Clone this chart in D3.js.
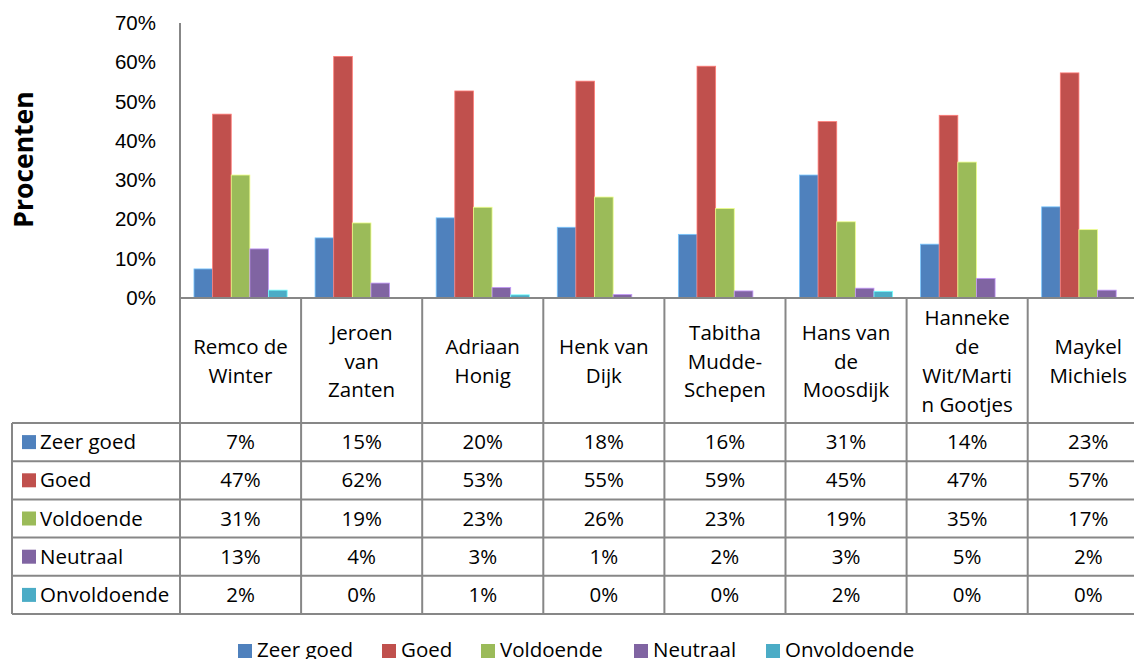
<!DOCTYPE html>
<html>
<head>
<meta charset="utf-8">
<script src="https://cdn.jsdelivr.net/npm/d3@7"></script>
<style>
  body { margin: 0; background: #fff; }
  svg { display: block; font-family: "Open Sans", "Noto Sans", sans-serif; }
</style>
</head>
<body>
<div id="vis"></div>
<script>
// data
var categories = ['Remco de Winter', 'Jeroen van Zanten', 'Adriaan Honig', 'Henk van Dijk',
                  'Tabitha Mudde-Schepen', 'Hans van de Moosdijk', 'Hanneke de Wit/Martin Gootjes', 'Maykel Michiels'];
// how excel wrapped the names in the table header
var categoryLines = [
    ['Remco de', 'Winter'],
    ['Jeroen', 'van', 'Zanten'],
    ['Adriaan', 'Honig'],
    ['Henk van', 'Dijk'],
    ['Tabitha', 'Mudde-', 'Schepen'],
    ['Hans van', 'de', 'Moosdijk'],
    ['Hanneke', 'de', 'Wit/Marti', 'n Gootjes'],
    ['Maykel', 'Michiels']
];
var seriesNames = ['Zeer goed', 'Goed', 'Voldoende', 'Neutraal', 'Onvoldoende'];
var zeerGoed   = [0.074, 0.153, 0.204, 0.180, 0.162, 0.313, 0.137, 0.232];
var goed       = [0.468, 0.615, 0.527, 0.552, 0.590, 0.449, 0.465, 0.573];
var voldoende  = [0.313, 0.191, 0.231, 0.257, 0.228, 0.194, 0.346, 0.174];
var neutraal   = [0.125, 0.038, 0.027, 0.009, 0.018, 0.025, 0.050, 0.020];
var onvoldoende = [0.020, 0.000, 0.008, 0.000, 0.000, 0.017, 0.000, 0.000];
var yTicks = [0, 0.1, 0.2, 0.3, 0.4, 0.5, 0.6, 0.7];

var colors = ['#4F81BD', '#C0504D', '#9BBB59', '#8064A2', '#4BACC6'];
var seriesValues = [zeerGoed, goed, voldoende, neutraal, onvoldoende];

var width = 1134, height = 659;
var plotLeft = 180, plotTop = 23, plotBottom = 298;
var bandWidth = 121.1;
var rowH = 38.2;
var headerBottom = 423;
var tableLeft = 12;
var lineColor = '#878787';
var fontSize = 20.5;

var svg = d3.select('#vis').append('svg')
    .attr('width', width)
    .attr('height', height);

var x = d3.scaleBand()
    .domain(categories)
    .range([plotLeft, plotLeft + bandWidth * categories.length])
    .paddingInner(0).paddingOuter(0);

var xSub = d3.scaleBand()
    .domain(seriesNames)
    .range([0, x.bandwidth()])
    .paddingInner(0).paddingOuter(0.75);

var y = d3.scaleLinear()
    .domain([0, 0.7])
    .range([plotBottom, plotTop]);

// y axis labels
var yAxis = d3.axisLeft(y)
    .tickValues(yTicks)
    .tickFormat(d3.format('.0%'))
    .tickSize(0)
    .tickPadding(24);

var yg = svg.append('g')
    .attr('transform', 'translate(' + plotLeft + ',0)')
    .call(yAxis);
yg.select('.domain').remove();
yg.selectAll('text')
    .attr('font-size', fontSize)
    .attr('font-family', null)
    .attr('fill', '#000');

svg.append('text')
    .attr('transform', 'translate(33,' + ((plotTop + plotBottom) / 2 - 1) + ') rotate(-90)')
    .attr('text-anchor', 'middle')
    .attr('font-size', 26.5)
    .attr('font-weight', 'bold')
    .text('Procenten');

// bars
var groups = svg.selectAll('.series')
    .data(seriesNames)
    .enter().append('g')
    .attr('class', 'series');

groups.selectAll('rect')
    .data(function (s, i) {
        return seriesValues[i].map(function (v, j) {
            return { series: s, idx: i, cat: categories[j], value: v };
        });
    })
    .enter().append('rect')
    .attr('x', function (d) { return x(d.cat) + xSub(d.series); })
    .attr('width', xSub.bandwidth())
    .attr('y', function (d) { return y(d.value); })
    .attr('height', function (d) { return plotBottom - y(d.value); })
    .attr('fill', function (d) { return colors[d.idx]; })
    .attr('stroke', function (d) { return d3.rgb(colors[d.idx]).brighter(1.2); })
    .attr('stroke-width', 0.8);

// data table lines
var tableBottom = headerBottom + rowH * seriesNames.length;
var tableRight = x.range()[1];
var lines = svg.append('g')
    .attr('stroke', lineColor)
    .attr('stroke-width', 2)
    .attr('fill', 'none');

// y axis line
lines.append('line')
    .attr('x1', plotLeft).attr('x2', plotLeft)
    .attr('y1', plotTop).attr('y2', plotBottom);

// horizontal lines: axis and table rows
var hLines = [plotBottom];
for (var r = 0; r <= seriesNames.length; r++) hLines.push(headerBottom + rowH * r);
lines.selectAll('.hl')
    .data(hLines)
    .enter().append('line')
    .attr('x1', function (d, i) { return i === 0 ? plotLeft : tableLeft; })
    .attr('x2', tableRight)
    .attr('y1', function (d) { return d; })
    .attr('y2', function (d) { return d; });

// vertical lines between categories
lines.selectAll('.vl')
    .data(categories.concat(['end']))
    .enter().append('line')
    .attr('x1', function (d, i) { return plotLeft + bandWidth * i; })
    .attr('x2', function (d, i) { return plotLeft + bandWidth * i; })
    .attr('y1', plotBottom)
    .attr('y2', tableBottom);

lines.append('line')
    .attr('x1', tableLeft).attr('x2', tableLeft)
    .attr('y1', headerBottom).attr('y2', tableBottom);

// header labels
var lineGap = 28.8;
svg.selectAll('.cat')
    .data(categories)
    .enter().append('text')
    .attr('text-anchor', 'middle')
    .attr('font-size', fontSize)
    .each(function (c, i) {
        var ls = categoryLines[i];
        var cy = (plotBottom + headerBottom) / 2 + 1;
        var t = d3.select(this);
        ls.forEach(function (l, k) {
            t.append('tspan')
                .attr('x', x(c) + x.bandwidth() / 2)
                .attr('y', cy + (k - (ls.length - 1) / 2) * lineGap)
                .attr('dy', '0.35em')
                .text(l);
        });
    });

// row labels with legend keys
var rows = svg.selectAll('.row')
    .data(seriesNames)
    .enter().append('g')
    .attr('transform', function (d, i) { return 'translate(0,' + (headerBottom + rowH * i + rowH / 2) + ')'; });

rows.append('rect')
    .attr('x', 22).attr('y', -7)
    .attr('width', 14).attr('height', 14)
    .attr('fill', function (d, i) { return colors[i]; });

rows.append('text')
    .attr('x', 40)
    .attr('dy', '0.35em')
    .attr('font-size', fontSize)
    .text(function (d) { return d; });

rows.selectAll('.val')
    .data(function (d, i) { return seriesValues[i]; })
    .enter().append('text')
    .attr('x', function (v, j) { return x(categories[j]) + x.bandwidth() / 2; })
    .attr('dy', '0.35em')
    .attr('text-anchor', 'middle')
    .attr('font-size', fontSize)
    .text(function (v) { return d3.format('.0%')(v); });

// legend at bottom (clipped by the picture edge, like the original)
var legendX = [238, 382, 481, 634, 766];
var legend = svg.selectAll('.leg')
    .data(seriesNames)
    .enter().append('g')
    .attr('transform', function (d, i) { return 'translate(' + legendX[i] + ',657)'; });

legend.append('rect')
    .attr('x', 0).attr('y', -13)
    .attr('width', 14).attr('height', 14)
    .attr('fill', function (d, i) { return colors[i]; });

legend.append('text')
    .attr('x', 19)
    .attr('font-size', fontSize)
    .text(function (d) { return d; });
</script>
</body>
</html>
